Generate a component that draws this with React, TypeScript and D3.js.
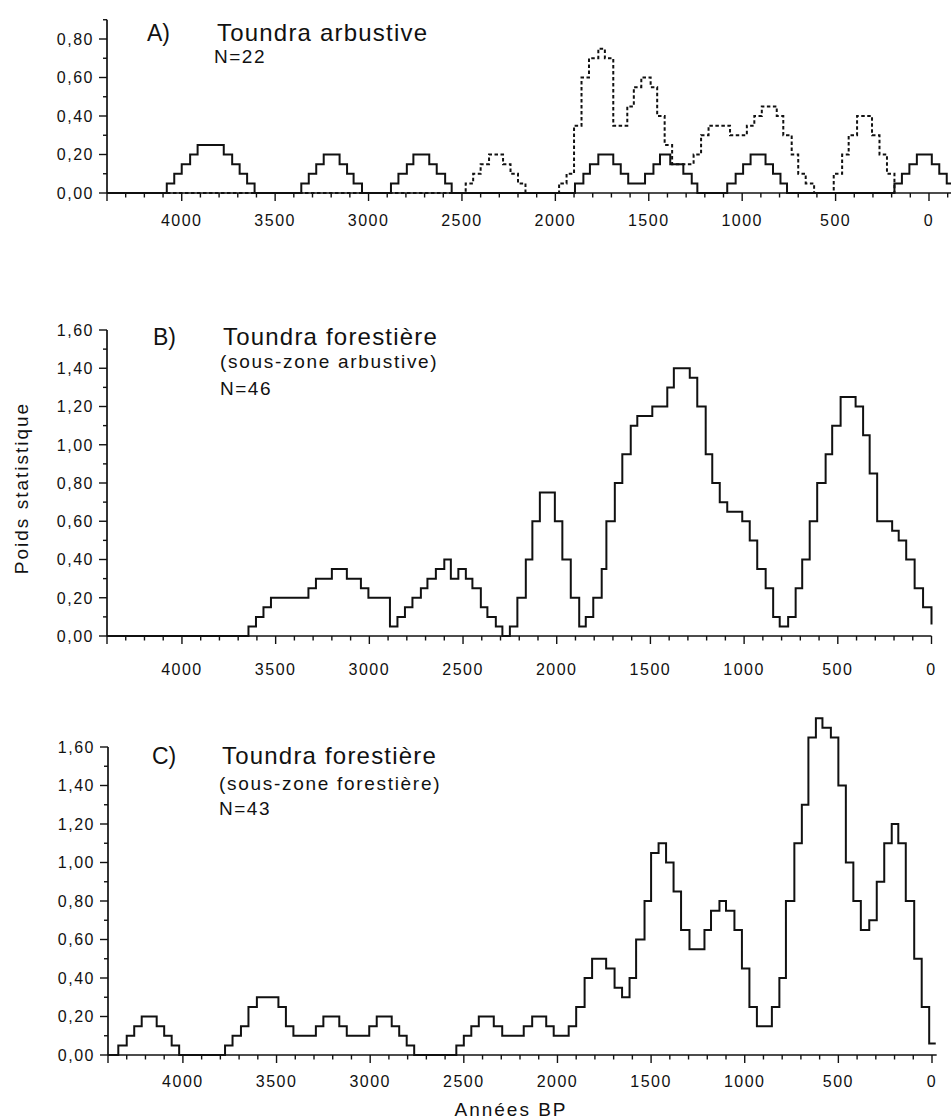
import React, { useEffect, useRef } from 'react';
import * as d3 from 'd3';

// [années BP, poids statistique] : la valeur vaut jusqu'au point suivant (histogramme en marches)
type Step = [number, number];

// A) Toundra arbustive, N=22 (trait plein)
const arbustiveTrait: Step[] = [
  [4400, 0], [4080, 0.05], [4040, 0.1], [4000, 0.15], [3955, 0.2], [3915, 0.25], [3775, 0.2], [3730, 0.15], [3690, 0.1], [3650, 0.05], [3610, 0],
  [3360, 0.05], [3320, 0.1], [3280, 0.15], [3240, 0.2], [3155, 0.15], [3115, 0.1], [3080, 0.05], [3035, 0],
  [2880, 0.05], [2840, 0.1], [2795, 0.15], [2760, 0.2], [2675, 0.15], [2635, 0.1], [2590, 0.05], [2555, 0],
  [1895, 0.05], [1850, 0.1], [1815, 0.15], [1770, 0.2], [1690, 0.15], [1650, 0.1], [1610, 0.05], [1520, 0.1], [1475, 0.15], [1440, 0.2], [1385, 0.15], [1315, 0.1], [1270, 0.05], [1240, 0],
  [1080, 0.05], [1035, 0.1], [995, 0.15], [955, 0.2], [875, 0.15], [835, 0.1], [795, 0.05], [760, 0],
  [185, 0.05], [145, 0.1], [105, 0.15], [65, 0.2], [-15, 0.15], [-55, 0.1], [-95, 0.05], [-135, 0],
];

// A) Toundra arbustive (tireté)
const arbustivePointille: Step[] = [
  [4400, 0], [2480, 0.05], [2440, 0.1], [2400, 0.15], [2355, 0.2], [2280, 0.15], [2240, 0.1], [2200, 0.05], [2160, 0],
  [1980, 0.05], [1940, 0.1], [1900, 0.35], [1860, 0.6], [1820, 0.7], [1770, 0.75], [1735, 0.7], [1690, 0.35], [1615, 0.45], [1580, 0.55], [1540, 0.6], [1490, 0.55], [1455, 0.4], [1415, 0.25], [1375, 0.15],
  [1260, 0.2], [1220, 0.3], [1180, 0.35], [1065, 0.3], [975, 0.35], [935, 0.4], [895, 0.45], [815, 0.4], [780, 0.3], [735, 0.2], [700, 0.1], [660, 0.05], [615, 0],
  [510, 0.1], [465, 0.2], [430, 0.3], [385, 0.4], [305, 0.3], [265, 0.2], [225, 0.1], [185, 0],
];

// B) Toundra forestière (sous-zone arbustive), N=46
const forestiereArbustive: Step[] = [
  [4400, 0], [3645, 0.05], [3605, 0.1], [3565, 0.15], [3525, 0.2], [3325, 0.25], [3285, 0.3], [3200, 0.35], [3120, 0.3], [3045, 0.25], [3005, 0.2],
  [2890, 0.05], [2850, 0.1], [2810, 0.15], [2770, 0.2], [2725, 0.25], [2690, 0.3], [2645, 0.35], [2600, 0.4], [2565, 0.3], [2525, 0.35], [2485, 0.3], [2450, 0.25], [2405, 0.15], [2370, 0.1], [2325, 0.05], [2290, 0],
  [2250, 0.05], [2210, 0.2], [2165, 0.4], [2130, 0.6], [2090, 0.75], [2010, 0.6], [1970, 0.4], [1925, 0.2], [1880, 0.05], [1845, 0.1], [1805, 0.2], [1760, 0.35], [1735, 0.6],
  [1690, 0.8], [1650, 0.95], [1605, 1.1], [1570, 1.15], [1490, 1.2], [1410, 1.3], [1375, 1.4], [1290, 1.35], [1250, 1.2], [1205, 0.95], [1170, 0.8], [1130, 0.7], [1090, 0.65],
  [1010, 0.6], [970, 0.5], [930, 0.35], [885, 0.25], [845, 0.1], [810, 0.05], [765, 0.1], [725, 0.25], [690, 0.4], [650, 0.6], [610, 0.8], [565, 0.95], [530, 1.1], [485, 1.25],
  [405, 1.2], [365, 1.05], [330, 0.85], [290, 0.6], [210, 0.55], [175, 0.5], [135, 0.4], [90, 0.25], [45, 0.15], [0, 0.06],
];

// C) Toundra forestière (sous-zone forestière), N=43
const forestiereForestiere: Step[] = [
  [4400, 0], [4345, 0.05], [4300, 0.1], [4260, 0.15], [4220, 0.2], [4140, 0.15], [4100, 0.1], [4060, 0.05], [4020, 0],
  [3775, 0.05], [3735, 0.1], [3690, 0.15], [3650, 0.25], [3605, 0.3], [3490, 0.25], [3450, 0.15], [3410, 0.1], [3290, 0.15], [3250, 0.2], [3165, 0.15], [3125, 0.1],
  [3005, 0.15], [2965, 0.2], [2885, 0.15], [2845, 0.1], [2805, 0.05], [2765, 0],
  [2540, 0.05], [2500, 0.1], [2460, 0.15], [2420, 0.2], [2340, 0.15], [2295, 0.1], [2180, 0.15], [2135, 0.2], [2060, 0.15], [2020, 0.1], [1940, 0.15], [1900, 0.25], [1855, 0.4], [1815, 0.5],
  [1740, 0.45], [1695, 0.35], [1655, 0.3], [1615, 0.4], [1580, 0.6], [1535, 0.8], [1500, 1.05], [1460, 1.1], [1420, 1.0], [1380, 0.85], [1340, 0.65], [1295, 0.55],
  [1215, 0.65], [1180, 0.75], [1135, 0.8], [1100, 0.75], [1055, 0.65], [1015, 0.45], [975, 0.25], [935, 0.15], [855, 0.25], [815, 0.4], [780, 0.8], [735, 1.1], [695, 1.3],
  [660, 1.65], [620, 1.75], [585, 1.7], [540, 1.65], [500, 1.4], [460, 1.0], [420, 0.8], [380, 0.65], [335, 0.7], [295, 0.9], [255, 1.1], [215, 1.2], [180, 1.1],
  [140, 0.8], [95, 0.5], [55, 0.25], [15, 0.06], [-20, 0.06],
];

const anneesLabels = [4000, 3500, 3000, 2500, 2000, 1500, 1000, 500, 0];
const poidsA = [0, 0.2, 0.4, 0.6, 0.8];
const poidsBC = [0, 0.2, 0.4, 0.6, 0.8, 1.0, 1.2, 1.4, 1.6];

const width = 951;
const height = 1119;
const font = '"Liberation Sans", Arial, Helvetica, sans-serif';

const panels = [
  {
    lettre: 'A)', titre: 'Toundra arbustive', sousTitre: '', n: 'N=22',
    series: [{ data: arbustiveTrait, dash: '' }, { data: arbustivePointille, dash: '3.5,2.5' }],
    yTicks: poidsA, yMax: 0.9, base: 193, unit: 192.5, left: 107, zero: 929, fin: -120, labelDy: 33,
    lettreX: 147, titreY: 41, sousY: 0, nY: 63,
  },
  {
    lettre: 'B)', titre: 'Toundra forestière', sousTitre: '(sous-zone arbustive)', n: 'N=46',
    series: [{ data: forestiereArbustive, dash: '' }],
    yTicks: poidsBC, yMax: 1.6, base: 636, unit: 191.25, left: 107, zero: 931.5, fin: 0, labelDy: 39,
    lettreX: 153, titreY: 345, sousY: 368, nY: 395,
  },
  {
    lettre: 'C)', titre: 'Toundra forestière', sousTitre: '(sous-zone forestière)', n: 'N=43',
    series: [{ data: forestiereForestiere, dash: '' }],
    yTicks: poidsBC, yMax: 1.6, base: 1055, unit: 192.5, left: 108, zero: 932, fin: -25, labelDy: 32,
    lettreX: 152, titreY: 764, sousY: 790, nY: 815,
  },
];

const fmt = (v: number) => d3.format('.2f')(v).replace('.', ',');

const App: React.FC = () => {
  const svgRef = useRef<SVGSVGElement | null>(null);

  useEffect(() => {
    const svg = d3.select(svgRef.current);
    svg.selectAll('*').remove();

    svg.append('rect').attr('width', width).attr('height', height).attr('fill', '#fff');

    panels.forEach(p => {
      const x = d3.scaleLinear().domain([4400, 0]).range([p.left, p.zero]);
      const y = d3.scaleLinear().domain([0, 1]).range([p.base, p.base - p.unit]);
      const g = svg.append('g').attr('stroke', '#111').attr('fill', 'none');

      // courbes en marches
      const line = d3.line<Step>()
        .x(d => x(d[0]))
        .y(d => y(d[1]))
        .curve(d3.curveStepAfter);
      p.series.forEach(s => {
        g.append('path')
          .attr('d', line(s.data))
          .attr('stroke-width', 2)
          .attr('stroke-dasharray', s.dash || null);
      });

      // axe des x
      g.append('line')
        .attr('x1', p.left).attr('x2', x(p.fin))
        .attr('y1', p.base).attr('y2', p.base)
        .attr('stroke-width', 1.7);
      const minor = d3.range(4400, p.fin - 1, -100);
      g.selectAll(null)
        .data(minor)
        .join('line')
        .attr('x1', d => x(d)).attr('x2', d => x(d))
        .attr('y1', p.base)
        .attr('y2', d => p.base + (d % 500 === 0 || d === 4400 ? 8 : 4.5))
        .attr('stroke-width', 1.4);

      // axe des y
      g.append('line')
        .attr('x1', p.left).attr('x2', p.left)
        .attr('y1', y(p.yMax)).attr('y2', p.base)
        .attr('stroke-width', 1.7);
      const yMinor = d3.range(0, p.yMax + 0.001, 0.1);
      g.selectAll(null)
        .data(yMinor)
        .join('line')
        .attr('x1', d => p.left - (Math.round(d * 10) % 2 === 0 ? 8 : 4))
        .attr('x2', p.left)
        .attr('y1', d => y(d)).attr('y2', d => y(d))
        .attr('stroke-width', 1.4);

      const t = svg.append('g')
        .attr('font-family', font)
        .attr('fill', '#111');

      t.selectAll(null)
        .data(p.yTicks)
        .join('text')
        .attr('x', p.left - 13)
        .attr('y', d => y(d))
        .attr('dy', '0.36em')
        .attr('text-anchor', 'end')
        .attr('font-size', 16)
        .attr('letter-spacing', 1.5)
        .text(d => fmt(d));

      t.selectAll(null)
        .data(anneesLabels)
        .join('text')
        .attr('x', d => x(d))
        .attr('y', p.base + p.labelDy)
        .attr('text-anchor', 'middle')
        .attr('font-size', 16)
        .attr('letter-spacing', 1.5)
        .text(d => String(d));

      // titres
      t.append('text')
        .attr('x', p.lettreX).attr('y', p.titreY)
        .attr('font-size', 23)
        .text(p.lettre);
      t.append('text')
        .attr('x', p.lettreX + 70).attr('y', p.titreY)
        .attr('font-size', 24)
        .attr('letter-spacing', 1.2)
        .text(p.titre);
      if (p.sousTitre) {
        t.append('text')
          .attr('x', p.lettreX + 67).attr('y', p.sousY)
          .attr('font-size', 19)
          .attr('letter-spacing', 1.7)
          .text(p.sousTitre);
      }
      t.append('text')
        .attr('x', p.lettreX + 67).attr('y', p.nY)
        .attr('font-size', 19)
        .attr('letter-spacing', 1.5)
        .text(p.n);
    });

    const lbl = svg.append('g').attr('font-family', font).attr('fill', '#111').attr('font-size', 19).attr('letter-spacing', 2);
    lbl.append('text')
      .attr('transform', 'translate(28,488) rotate(-90)')
      .attr('text-anchor', 'middle')
      .text('Poids statistique');
    lbl.append('text')
      .attr('x', 511).attr('y', 1116)
      .attr('text-anchor', 'middle')
      .text('Années BP');
  }, []);

  return (
    <svg
      ref={svgRef}
      width={width}
      height={height}
      style={{ position: 'absolute', left: 0, top: 0, display: 'block' }}
    />
  );
};

export default App;
